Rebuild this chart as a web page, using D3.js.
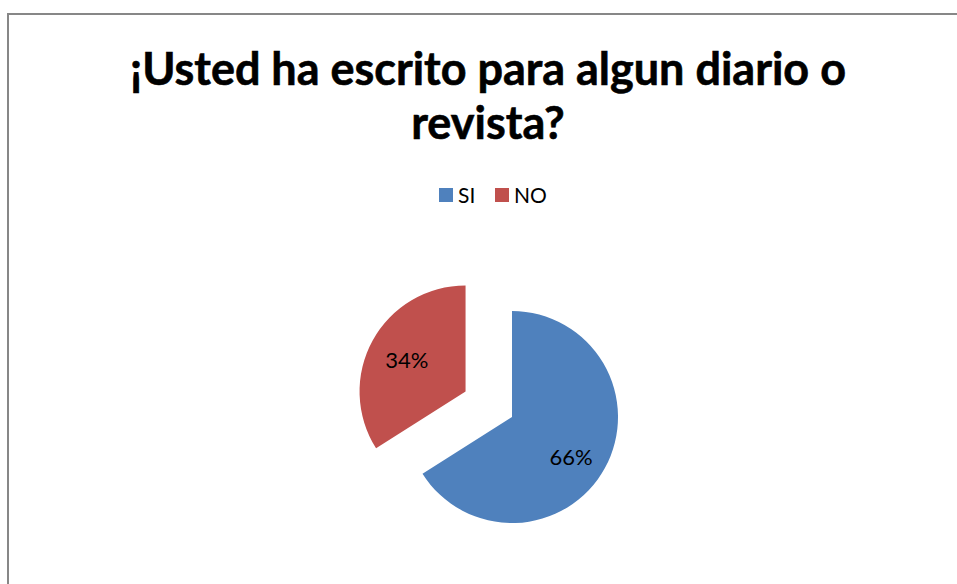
<!DOCTYPE html>
<html>
<head>
<meta charset="utf-8">
<script src="https://cdn.jsdelivr.net/npm/d3@7"></script>
<style>
  html, body { margin: 0; padding: 0; background: #fff; }
  svg { display: block; }
</style>
</head>
<body>
<div id="chart"></div>
<script>
const titleLines = ["¡Usted ha escrito para algun diario o", "revista?"];
const categories = ["SI", "NO"];
const values = [66, 34];
const colors = ["#4F81BD", "#C0504D"];

const W = 957, H = 584;
const FONT = "Lato, 'Open Sans', sans-serif";

const svg = d3.select("#chart").append("svg")
  .attr("width", W).attr("height", H);

// chart area border (extends past the right and bottom edges)
svg.append("rect")
  .attr("x", 8).attr("y", 14)
  .attr("width", 1200).attr("height", 1200)
  .attr("fill", "#fff")
  .attr("stroke", "#878787")
  .attr("stroke-width", 2);

// title
const titleCx = 488;
const title = svg.append("g");
const t1 = title.append("text")
  .attr("x", titleCx).attr("y", 85)
  .attr("text-anchor", "middle")
  .attr("font-family", FONT).attr("font-weight", "bold")
  .attr("font-size", 44).attr("fill", "#000")
  .attr("stroke", "#000").attr("stroke-width", 0.6)
  .text(titleLines[0]);
// fit font size so the first line spans ~716px like the reference
const w0 = t1.node().getComputedTextLength();
const fs = Math.min(48, 44 * 716 / w0);
t1.attr("font-size", fs);
title.append("text")
  .attr("x", titleCx).attr("y", 139)
  .attr("text-anchor", "middle")
  .attr("font-family", FONT).attr("font-weight", "bold")
  .attr("font-size", fs).attr("fill", "#000")
  .attr("stroke", "#000").attr("stroke-width", 0.6)
  .text(titleLines[1]);

// legend
const legend = svg.append("g");
const legX = [439, 495];
categories.forEach((c, i) => {
  legend.append("rect")
    .attr("x", legX[i]).attr("y", 188)
    .attr("width", 14).attr("height", 14)
    .attr("fill", colors[i]);
  legend.append("text")
    .attr("x", legX[i] + 19).attr("y", 203)
    .attr("font-family", FONT).attr("font-size", 21)
    .attr("fill", "#000")
    .text(c);
});

// pie
const cx = 512, cy = 417, r = 106;
const explode = [0, 53];
const labelR = [72, 67];
const labelNudge = [[-4, 5], [0, 0]];
const pie = d3.pie().sort(null).value(d => d.v);
const arcs = pie(categories.map((c, i) => ({ c, v: values[i], i })));
const arc = d3.arc().innerRadius(0).outerRadius(r);

const g = svg.append("g").attr("transform", `translate(${cx},${cy})`);
arcs.forEach((a, i) => {
  const mid = (a.startAngle + a.endAngle) / 2;
  const ox = Math.sin(mid) * explode[i];
  const oy = -Math.cos(mid) * explode[i];
  const sg = g.append("g").attr("transform", `translate(${ox},${oy})`);
  sg.append("path").attr("d", arc(a)).attr("fill", colors[i]);
  const lx = Math.sin(mid) * labelR[i] + labelNudge[i][0];
  const ly = -Math.cos(mid) * labelR[i] + labelNudge[i][1];
  sg.append("text")
    .attr("x", lx).attr("y", ly)
    .attr("text-anchor", "middle")
    .attr("dominant-baseline", "central")
    .attr("font-family", FONT).attr("font-size", 22)
    .attr("fill", "#000")
    .text(Math.round(a.data.v) + "%");
});
</script>
</body>
</html>
